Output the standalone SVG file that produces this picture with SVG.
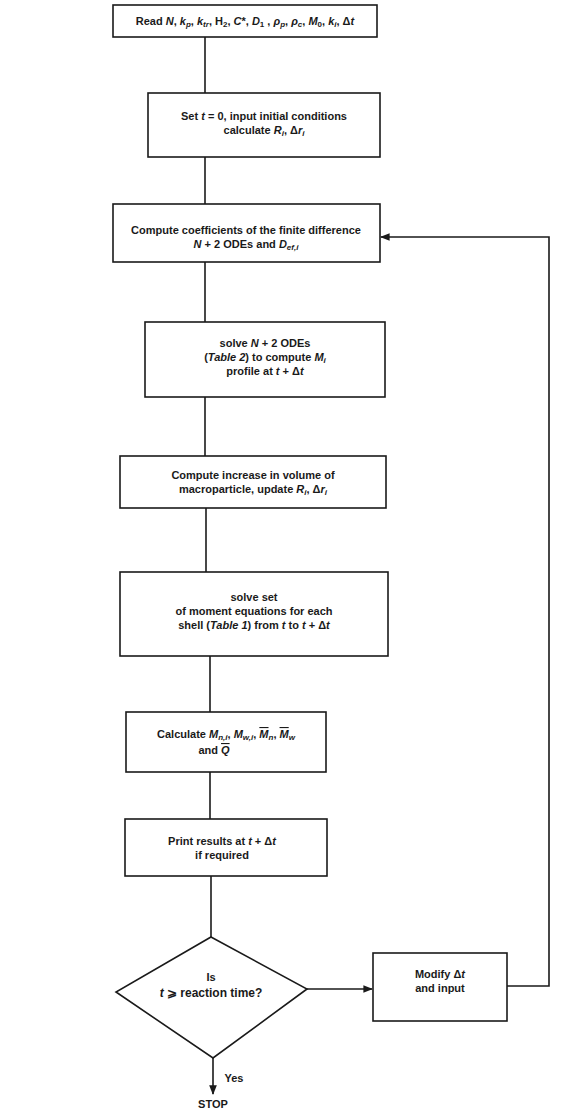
<svg xmlns="http://www.w3.org/2000/svg" width="562" height="1113" viewBox="0 0 562 1113">
<style>
.box{fill:none;stroke:#1a1a1a;stroke-width:1.6}
.ln{fill:none;stroke:#1a1a1a;stroke-width:1.6}
text{font-family:"Liberation Sans",Arial,sans-serif;font-size:11px;font-weight:bold;fill:#1a1a1a;text-anchor:middle}
.i{font-style:italic}
.s{font-size:8px}
</style>
<defs>
<marker id="ah" viewBox="0 0 10 10" refX="9" refY="5" markerWidth="6" markerHeight="6" orient="auto-start-reverse">
<path d="M0,1 L10,5 L0,9 z" fill="#1a1a1a"/>
</marker>
</defs>
<rect width="562" height="1113" fill="#fff"/>
<g id="connectors">
<line class="ln" x1="205" y1="37" x2="205" y2="93"/>
<line class="ln" x1="205" y1="157" x2="205" y2="204"/>
<line class="ln" x1="205" y1="262" x2="205" y2="322"/>
<line class="ln" x1="205" y1="397" x2="205" y2="456"/>
<line class="ln" x1="206" y1="508" x2="206" y2="572"/>
<line class="ln" x1="210" y1="656" x2="210" y2="712"/>
<line class="ln" x1="210" y1="772" x2="210" y2="819"/>
<line class="ln" x1="211" y1="876" x2="211" y2="937"/>
<line class="ln" x1="307" y1="989" x2="372" y2="989" marker-end="url(#ah)"/>
<polyline class="ln" points="507,986 549,986 549,237 381,237" marker-end="url(#ah)"/>
<line class="ln" x1="213" y1="1058" x2="213" y2="1094" marker-end="url(#ah)"/>
</g>
<g id="n1">
<rect class="box" x="113" y="5" width="264" height="32"/>
<text x="245" y="25">Read <tspan class="i">N</tspan>, <tspan class="i">k</tspan><tspan class="s i" dy="2">p</tspan><tspan dy="-2">, </tspan><tspan class="i">k</tspan><tspan class="s i" dy="2">tr</tspan><tspan dy="-2">, H</tspan><tspan class="s" dy="2">2</tspan><tspan dy="-2">, </tspan><tspan class="i">C</tspan>*, <tspan class="i">D</tspan><tspan class="s" dy="2">1</tspan><tspan dy="-2"> , </tspan><tspan class="i">ρ</tspan><tspan class="s i" dy="2">p</tspan><tspan dy="-2">, </tspan><tspan class="i">ρ</tspan><tspan class="s i" dy="2">c</tspan><tspan dy="-2">, </tspan><tspan class="i">M</tspan><tspan class="s" dy="2">0</tspan><tspan dy="-2">, </tspan><tspan class="i">k</tspan><tspan class="s i" dy="2">i</tspan><tspan dy="-2">, Δ</tspan><tspan class="i">t</tspan></text>
</g>
<g id="n2">
<rect class="box" x="148" y="93" width="232" height="64"/>
<text x="264" y="120">Set <tspan class="i">t</tspan> = 0, input initial conditions</text>
<text x="264" y="134">calculate <tspan class="i">R</tspan><tspan class="s i" dy="2">i</tspan><tspan dy="-2">, Δ</tspan><tspan class="i">r</tspan><tspan class="s i" dy="2">i</tspan></text>
</g>
<g id="n3">
<rect class="box" x="113" y="204" width="267" height="58"/>
<text x="246" y="234">Compute coefficients of the finite difference</text>
<text x="246" y="248"><tspan class="i">N</tspan> + 2 ODEs and <tspan class="i">D</tspan><tspan class="s i" dy="2">ef,i</tspan></text>
</g>
<g id="n4">
<rect class="box" x="145" y="322" width="240" height="75"/>
<text x="265" y="347">solve <tspan class="i">N</tspan> + 2 ODEs</text>
<text x="265" y="361">(<tspan class="i">Table 2</tspan>) to compute <tspan class="i">M</tspan><tspan class="s i" dy="2">i</tspan></text>
<text x="265" y="375">profile at <tspan class="i">t</tspan> + Δ<tspan class="i">t</tspan></text>
</g>
<g id="n5">
<rect class="box" x="120" y="456" width="266" height="52"/>
<text x="253" y="479">Compute increase in volume of</text>
<text x="253" y="493">macroparticle, update <tspan class="i">R</tspan><tspan class="s i" dy="2">i</tspan><tspan dy="-2">, Δ</tspan><tspan class="i">r</tspan><tspan class="s i" dy="2">i</tspan></text>
</g>
<g id="n6">
<rect class="box" x="120" y="572" width="268" height="84"/>
<text x="254" y="601">solve set</text>
<text x="254" y="615">of moment equations for each</text>
<text x="254" y="629">shell (<tspan class="i">Table 1</tspan>) from <tspan class="i">t</tspan> to <tspan class="i">t</tspan> + Δ<tspan class="i">t</tspan></text>
</g>
<g id="n7">
<rect class="box" x="126" y="712" width="200" height="60"/>
<text x="226" y="738">Calculate <tspan class="i">M</tspan><tspan class="s i" dy="2">n,i</tspan><tspan dy="-2">, </tspan><tspan class="i">M</tspan><tspan class="s i" dy="2">w,i</tspan><tspan dy="-2">, </tspan><tspan class="i" text-decoration="overline">M</tspan><tspan class="s i" dy="2">n</tspan><tspan dy="-2">, </tspan><tspan class="i" text-decoration="overline">M</tspan><tspan class="s i" dy="2">w</tspan></text>
<text x="214" y="754">and <tspan class="i" text-decoration="overline">Q</tspan></text>
</g>
<g id="n8">
<rect class="box" x="125" y="819" width="202" height="57"/>
<text x="222" y="845">Print results at <tspan class="i">t</tspan> + Δ<tspan class="i">t</tspan></text>
<text x="222" y="859">if required</text>
</g>
<g id="n9">
<polygon class="box" points="211,937 307,989 213,1058 116,992"/>
<text x="211" y="981">Is</text>
<text x="211" y="997" style="font-size:12px"><tspan class="i">t</tspan> ⩾ reaction time?</text>
</g>
<g id="n10">
<rect class="box" x="373" y="953" width="134" height="68"/>
<text x="440" y="978">Modify Δ<tspan class="i">t</tspan></text>
<text x="440" y="992">and input</text>
</g>
<g id="labels">
<text x="234" y="1082">Yes</text>
<text x="213" y="1108">STOP</text>
</g>
</svg>
